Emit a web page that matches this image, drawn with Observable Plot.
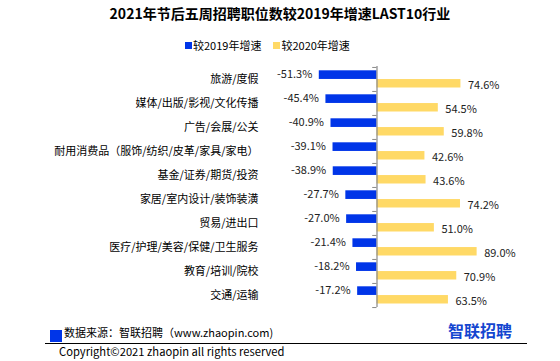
<!DOCTYPE html>
<html>
<head>
<meta charset="utf-8">
<script src="https://cdn.jsdelivr.net/npm/d3@7"></script>
<script src="https://cdn.jsdelivr.net/npm/@observablehq/plot@0.6"></script>
<style>
  html, body { margin: 0; padding: 0; background: #fff; }
  body { width: 560px; height: 361px; position: relative; overflow: hidden;
         font-family: "Noto Sans CJK SC", "Noto Sans", sans-serif; color: #000; }
  #title { position: absolute; left: 0; top: 3px; width: 560px; text-align: center;
           font-size: 14px; font-weight: bold; line-height: 20px; }
  #legend { position: absolute; left: 185px; top: 37px; display: flex;
            font-size: 11px; line-height: 16px; }
  .li { display: flex; align-items: center; margin-right: 12px; }
  .sw { width: 7px; height: 7px; margin-right: 1px; }
  #chart { position: absolute; left: 0; top: 56px; }
  #src { position: absolute; left: 50px; top: 322px; display: flex; align-items: center;
         font-size: 11px; line-height: 16px; }
  #src .sq { width: 12px; height: 12px; background: #0035E8; margin-right: 2px; margin-top: 8px; }
  #line { position: absolute; left: 45px; top: 343px; width: 482px; height: 1px; background: #000; }
  #copy { position: absolute; left: 59px; top: 343px; font-size: 11.2px; line-height: 16px; }
  #logo { position: absolute; left: 448px; top: 320px; font-size: 16px; font-weight: bold;
          color: #1446d0; line-height: 20px; }
</style>
</head>
<body>
<div id="title">2021年节后五周招聘职位数较2019年增速LAST10行业</div>
<div id="legend"></div>
<div id="chart"></div>
<div id="src"><div class="sq"></div><span>数据来源：智联招聘（www.zhaopin.com)</span></div>
<div id="line"></div>
<div id="copy">Copyright©2021 zhaopin all rights reserved</div>
<div id="logo">智联招聘</div>
<script>
const categories = ["旅游/度假","媒体/出版/影视/文化传播","广告/会展/公关","耐用消费品（服饰/纺织/皮革/家具/家电）","基金/证券/期货/投资","家居/室内设计/装饰装潢","贸易/进出口","医疗/护理/美容/保健/卫生服务","教育/培训/院校","交通/运输"];
const v2019 = [-51.3,-45.4,-40.9,-39.1,-38.9,-27.7,-27.0,-21.4,-18.2,-17.2];
const v2020 = [74.6,54.5,59.8,42.6,43.6,74.2,51.0,89.0,70.9,63.5];
const seriesNames = ["较2019年增速","较2020年增速"];
const colors = ["#0035E8","#FFD966"];

const legend = document.getElementById("legend");
seriesNames.forEach((n,i) => {
  const d = document.createElement("div"); d.className = "li";
  d.innerHTML = `<div class="sw" style="background:${colors[i]}"></div><span>${n}</span>`;
  legend.appendChild(d);
});

const d19 = categories.map((c,i) => ({cat:c, v:v2019[i]}));
const d20 = categories.map((c,i) => ({cat:c, v:v2020[i]}));
const fmt = v => v.toFixed(1) + "%";
const bw = 24.1;
const last = categories[categories.length-1];

const chart = Plot.plot({
  width: 560,
  height: 256,
  marginTop: 10,
  marginBottom: 5,
  marginLeft: 309,
  marginRight: 71,
  style: {fontFamily: '"Noto Sans CJK SC", "Noto Sans", sans-serif', fontSize: "11px", color: "#000"},
  x: {domain: [-60, 100], axis: null},
  y: {domain: categories, padding: 0, label: null},
  marks: [
    Plot.axisY({tickSize: 0, tickPadding: 51, label: null, fontSize: 11}),
    Plot.barX(d19, {y: "cat", x: "v", fill: colors[0], insetTop: 3.3, insetBottom: bw/2}),
    Plot.barX(d20, {y: "cat", x: "v", fill: colors[1], insetTop: bw/2, insetBottom: 3.5}),
    Plot.text(d19, {y: "cat", x: "v", text: d => fmt(d.v), textAnchor: "end", dx: -7, dy: -5, fill: "#222", fontSize: 11}),
    Plot.text(d20, {y: "cat", x: "v", text: d => fmt(d.v), textAnchor: "start", dx: 7, dy: 6, fill: "#222", fontSize: 11}),
    Plot.ruleX([0], {stroke: "#888", strokeWidth: 1.2}),
    Plot.ruleY(categories, {y: d => d, x1: -3.8, x2: 0, dy: -bw/2, stroke: "#888"}),
    Plot.ruleY([last], {y: d => d, x1: -3.8, x2: 0, dy: bw/2, stroke: "#888"})
  ]
});
document.getElementById("chart").appendChild(chart);
</script>
</body>
</html>
